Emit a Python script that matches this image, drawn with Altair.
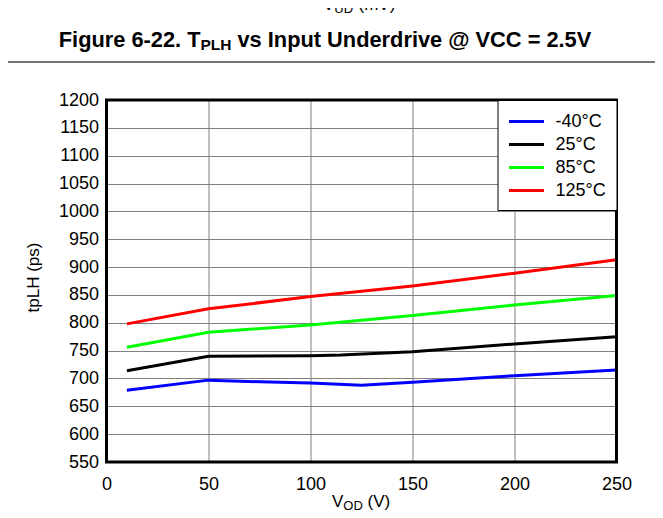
import altair as alt
import pandas as pd

# ---- data ----
temps = ["-40°C", "25°C", "85°C", "125°C"]
colors = ["#0000FF", "#000000", "#00FF00", "#FF0000"]

vod_m40 = [10, 50, 75, 100, 125, 150, 200, 250]
tplh_m40 = [679, 697, 694, 692, 688, 693, 705, 715]

vod_25 = [10, 50, 100, 115, 150, 200, 250]
tplh_25 = [714, 740, 741, 742, 748, 762, 775]

vod_85 = [10, 50, 100, 150, 200, 250]
tplh_85 = [756, 783, 796, 813, 832, 849]

vod_125 = [10, 50, 100, 150, 200, 250]
tplh_125 = [798, 825, 847, 866, 889, 913]

x_ticks = [0, 50, 100, 150, 200, 250]
y_ticks = list(range(550, 1201, 50))

caption_main = "Figure 6-22. T"
caption_sub = "PLH"
caption_rest = "vs Input Underdrive @ VCC = 2.5V"
prev_title_main = "V"
prev_title_sub = "UD"
prev_title_rest = "(mV)"
xtitle_main = "V"
xtitle_sub = "OD"
xtitle_rest = "(V)"
ytitle = "tpLH (ps)"

rows = []
for t, xs, ys in zip(temps, [vod_m40, vod_25, vod_85, vod_125],
                     [tplh_m40, tplh_25, tplh_85, tplh_125]):
    for a, b in zip(xs, ys):
        rows.append({"temp": t, "vod": a, "tplh": b})
df = pd.DataFrame(rows)

FONT = "Liberation Sans"
W, H = 510, 362

lines = alt.Chart(df).mark_line(strokeWidth=3, clip=True).encode(
    x=alt.X("vod:Q",
            scale=alt.Scale(domain=[0, 250], nice=False),
            axis=alt.Axis(values=x_ticks, title=None, domain=False, ticks=False,
                          tickSize=0, labelPadding=13, labelFontSize=18,
                          labelFont=FONT, labelColor="black", labelFlush=False,
                          gridColor="#808080", gridWidth=1)),
    y=alt.Y("tplh:Q",
            scale=alt.Scale(domain=[550, 1200], nice=False, zero=False),
            axis=alt.Axis(values=y_ticks, title=ytitle, domain=False, ticks=False,
                          format="d",
                          tickSize=0, labelPadding=8, labelFontSize=18,
                          labelFont=FONT, labelColor="black", labelFlush=False,
                          gridColor="#808080", gridWidth=1,
                          titleFont=FONT, titleFontSize=17, titleFontWeight="normal",
                          titleColor="black", titleX=-68, titleY=177,
                          titleAngle=-90, titleAlign="center",
                          titleBaseline="alphabetic")),
    color=alt.Color("temp:N",
                    sort=temps,
                    scale=alt.Scale(domain=temps, range=colors),
                    legend=alt.Legend(title=None, orient="top-right", offset=0,
                                      padding=10, strokeColor="black",
                                      fillColor="white",
                                      symbolType="M-1,0H2.5", symbolSize=400,
                                      symbolStrokeWidth=3, labelFontSize=18,
                                      labelFont=FONT, labelColor="black",
                                      labelOffset=25, rowPadding=2)),
)

frame = alt.Chart(pd.DataFrame({"a": [0]})).mark_rect(
    fill="white", fillOpacity=0, stroke="black", strokeWidth=3
).encode(x=alt.value(0), x2=alt.value(W), y=alt.value(0), y2=alt.value(H))


def txt(s, x, y, size, weight="normal", align="left"):
    return alt.Chart(pd.DataFrame({"t": [s]})).mark_text(
        font=FONT, fontSize=size, fontWeight=weight, align=align,
        baseline="alphabetic", color="black"
    ).encode(x=alt.value(x), y=alt.value(y), text="t:N")


# caption with subscript
XT = 94
cap1 = txt(caption_main, XT, -53.3, 21.8, "bold", "right")
cap2 = txt(caption_sub, XT, -50.3, 15.5, "bold", "left")
cap3 = txt(caption_rest, XT + 31 + 6, -53.3, 21.8, "bold", "left")

# clipped title of the previous figure at the very top
pt1 = txt(prev_title_main, 216.5, -90, 17)
pt2 = txt(prev_title_sub, 227.8, -87, 13)
pt3 = txt(prev_title_rest, 252, -90, 17)

# x axis title with subscript
xt1 = txt(xtitle_main, 225.5, 407, 17)
xt2 = txt(xtitle_sub, 236.8, 410, 13)
xt3 = txt(xtitle_rest, 261, 407, 17)

sep = alt.Chart(pd.DataFrame({"a": [0]})).mark_rule(color="#777777", strokeWidth=2).encode(
    x=alt.value(-98.5), x2=alt.value(548.5), y=alt.value(-38)
)

chart = alt.layer(lines, frame, sep, cap1, cap2, cap3, pt1, pt2, pt3, xt1, xt2, xt3).properties(
    width=W, height=H,
    autosize=alt.AutoSizeParams(type="none"),
    padding={"left": 98.5, "top": 92, "right": 38.5, "bottom": 53},
).configure_view(
    stroke=None
).configure_legend(
    strokeWidth=3
).configure(background="white")

chart.save("out.html", embed_options={"renderer": "svg", "actions": False})
